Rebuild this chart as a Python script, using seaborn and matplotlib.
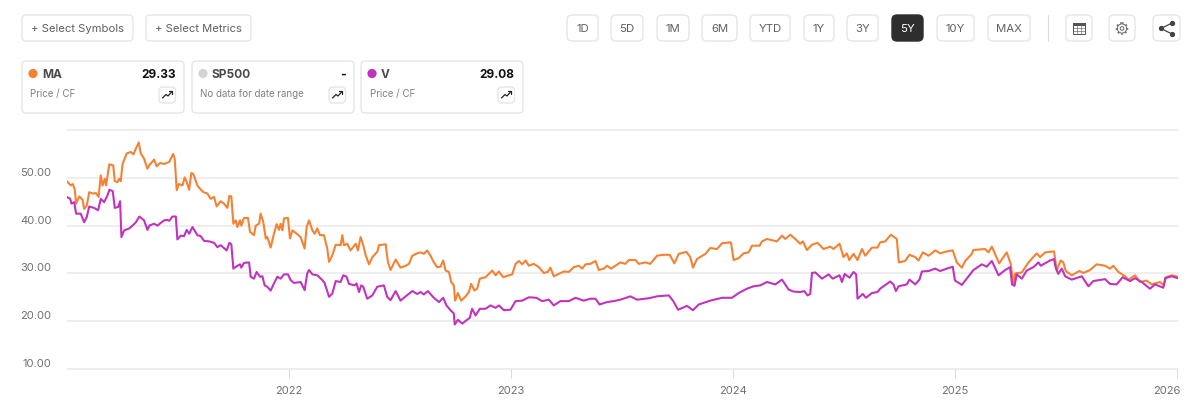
import pandas as pd
import seaborn as sns
import matplotlib.pyplot as plt
from matplotlib.patches import FancyBboxPatch, Circle
from matplotlib.transforms import ScaledTranslation

# price / cf. x is the date as a fractional year
ma_years = [
    2021.000, 2021.018, 2021.027, 2021.036, 2021.042, 2021.056, 2021.071, 2021.078, 2021.090, 2021.101,
    2021.116, 2021.131, 2021.143, 2021.153, 2021.161, 2021.171, 2021.177, 2021.191, 2021.209, 2021.216,
    2021.228, 2021.236, 2021.243, 2021.251, 2021.270, 2021.288, 2021.300, 2021.311, 2021.324, 2021.333,
    2021.348, 2021.363, 2021.371, 2021.393, 2021.405, 2021.420, 2021.438, 2021.461, 2021.479, 2021.486,
    2021.495, 2021.504, 2021.521, 2021.531, 2021.540, 2021.551, 2021.561, 2021.570, 2021.588, 2021.600,
    2021.615, 2021.633, 2021.648, 2021.663, 2021.675, 2021.693, 2021.708, 2021.723, 2021.732, 2021.741,
    2021.750, 2021.761, 2021.768, 2021.780, 2021.786, 2021.798, 2021.816, 2021.825, 2021.843, 2021.851,
    2021.866, 2021.873, 2021.885, 2021.896, 2021.903, 2021.918, 2021.933, 2021.945, 2021.956, 2021.963,
    2021.971, 2021.978, 2021.996, 2022.005, 2022.016, 2022.038, 2022.053, 2022.071, 2022.080, 2022.091,
    2022.106, 2022.116, 2022.128, 2022.140, 2022.158, 2022.173, 2022.181, 2022.196, 2022.211, 2022.233,
    2022.241, 2022.248, 2022.263, 2022.278, 2022.301, 2022.311, 2022.323, 2022.335, 2022.346, 2022.361,
    2022.376, 2022.398, 2022.406, 2022.436, 2022.446, 2022.458, 2022.481, 2022.503, 2022.526, 2022.541,
    2022.556, 2022.578, 2022.593, 2022.608, 2022.623, 2022.638, 2022.653, 2022.668, 2022.683, 2022.695,
    2022.706, 2022.721, 2022.731, 2022.743, 2022.749, 2022.761, 2022.776, 2022.796, 2022.811, 2022.821,
    2022.836, 2022.848, 2022.860, 2022.886, 2022.901, 2022.916, 2022.931, 2022.946, 2022.965, 2022.991,
    2023.006, 2023.021, 2023.036, 2023.051, 2023.066, 2023.081, 2023.103, 2023.126, 2023.148, 2023.166,
    2023.178, 2023.193, 2023.216, 2023.238, 2023.261, 2023.283, 2023.306, 2023.321, 2023.336, 2023.358,
    2023.381, 2023.396, 2023.418, 2023.433, 2023.451, 2023.471, 2023.493, 2023.516, 2023.531, 2023.561,
    2023.576, 2023.606, 2023.628, 2023.658, 2023.688, 2023.715, 2023.736, 2023.756, 2023.790, 2023.808,
    2023.820, 2023.838, 2023.876, 2023.898, 2023.928, 2023.951, 2023.991, 2024.003, 2024.026, 2024.048,
    2024.071, 2024.086, 2024.120, 2024.131, 2024.153, 2024.198, 2024.221, 2024.236, 2024.258, 2024.281,
    2024.303, 2024.315, 2024.333, 2024.356, 2024.381, 2024.408, 2024.438, 2024.453, 2024.480, 2024.498,
    2024.513, 2024.524, 2024.543, 2024.561, 2024.581, 2024.596, 2024.626, 2024.651, 2024.663, 2024.686,
    2024.711, 2024.738, 2024.747, 2024.775, 2024.795, 2024.821, 2024.836, 2024.855, 2024.881, 2024.911,
    2024.933, 2024.963, 2024.990, 2025.008, 2025.031, 2025.046, 2025.076, 2025.083, 2025.136, 2025.151,
    2025.166, 2025.199, 2025.233, 2025.251, 2025.263, 2025.271, 2025.301, 2025.331, 2025.368, 2025.383,
    2025.406, 2025.446, 2025.458, 2025.476, 2025.488, 2025.499, 2025.526, 2025.560, 2025.578, 2025.608,
    2025.638, 2025.676, 2025.698, 2025.713, 2025.736, 2025.766, 2025.781, 2025.811, 2025.833, 2025.863,
    2025.886, 2025.923, 2025.941, 2025.950, 2025.976, 2026.003,
]
ma_values = [
    49.3, 48.4, 48.7, 47.5, 44.6, 46.1, 45.4, 43.5, 44.2, 47.0,
    46.7, 46.8, 46.0, 50.5, 48.4, 49.8, 48.4, 52.8, 52.6, 49.3,
    49.1, 49.8, 49.3, 52.9, 55.1, 55.4, 54.9, 56.1, 57.4, 55.1,
    54.0, 51.9, 52.6, 53.8, 52.4, 53.1, 52.9, 53.3, 55.0, 54.0,
    47.4, 48.7, 48.4, 50.1, 49.1, 47.5, 51.0, 50.8, 48.4, 47.7,
    47.0, 46.7, 45.6, 46.0, 44.0, 45.1, 44.6, 43.7, 46.2, 46.1,
    40.4, 41.1, 39.7, 41.1, 40.0, 41.6, 41.6, 38.7, 38.0, 40.0,
    40.4, 42.5, 40.7, 37.3, 37.6, 35.4, 38.3, 40.3, 39.1, 40.4,
    39.0, 41.5, 41.6, 37.3, 39.0, 38.2, 37.6, 35.2, 39.7, 41.1,
    39.0, 38.3, 39.4, 38.0, 38.0, 35.2, 32.4, 33.8, 36.0, 35.9,
    38.0, 35.9, 36.2, 34.8, 36.2, 34.8, 37.6, 35.9, 33.8, 31.9,
    33.4, 34.5, 35.9, 36.1, 32.4, 30.7, 32.9, 31.2, 31.6, 32.0,
    33.7, 34.2, 34.4, 34.1, 34.8, 33.7, 32.3, 31.3, 31.4, 32.7,
    30.6, 30.3, 28.2, 27.5, 24.3, 25.9, 24.3, 25.2, 26.1, 27.8,
    26.4, 26.8, 28.9, 29.2, 29.9, 30.6, 29.6, 30.4, 29.2, 29.6,
    29.8, 32.0, 32.6, 31.9, 32.7, 31.6, 32.0, 31.3, 30.1, 30.3,
    31.2, 29.4, 29.9, 30.4, 30.3, 31.3, 31.6, 31.0, 31.9, 32.0,
    32.6, 30.7, 31.0, 31.6, 31.0, 31.6, 32.3, 32.0, 32.8, 32.8,
    32.0, 32.3, 32.0, 33.7, 33.9, 33.9, 32.1, 34.1, 34.5, 33.4,
    31.2, 33.0, 34.1, 35.3, 35.1, 36.3, 36.5, 32.8, 33.2, 34.2,
    34.4, 35.8, 35.8, 36.7, 37.2, 36.7, 37.9, 37.2, 38.1, 37.2,
    36.2, 36.7, 34.9, 36.0, 36.4, 35.1, 35.6, 35.1, 36.2, 33.4,
    34.2, 32.8, 34.1, 32.8, 35.1, 33.7, 35.4, 35.4, 36.5, 36.7,
    38.1, 37.2, 32.3, 32.6, 33.9, 33.4, 32.7, 34.4, 33.7, 34.8,
    34.2, 34.6, 34.8, 32.3, 31.2, 32.6, 34.1, 34.9, 35.1, 34.4,
    35.6, 32.1, 34.4, 32.0, 27.8, 30.0, 30.2, 32.3, 34.2, 33.4,
    34.4, 34.6, 30.6, 32.7, 32.3, 30.5, 29.6, 30.5, 30.1, 30.7,
    31.9, 31.6, 31.0, 31.6, 30.3, 29.4, 28.7, 29.6, 28.2, 28.5,
    27.7, 28.2, 27.5, 29.2, 29.6, 29.3,
]

v_years = [
    2021.000, 2021.015, 2021.021, 2021.033, 2021.042, 2021.063, 2021.078, 2021.090, 2021.101, 2021.123,
    2021.141, 2021.153, 2021.168, 2021.183, 2021.192, 2021.207, 2021.216, 2021.231, 2021.240, 2021.246,
    2021.258, 2021.281, 2021.296, 2021.311, 2021.327, 2021.348, 2021.363, 2021.372, 2021.393, 2021.408,
    2021.438, 2021.453, 2021.461, 2021.476, 2021.491, 2021.498, 2021.513, 2021.528, 2021.540, 2021.551,
    2021.566, 2021.588, 2021.603, 2021.618, 2021.641, 2021.663, 2021.678, 2021.693, 2021.720, 2021.732,
    2021.741, 2021.750, 2021.765, 2021.780, 2021.786, 2021.798, 2021.821, 2021.828, 2021.843, 2021.855,
    2021.870, 2021.881, 2021.891, 2021.903, 2021.918, 2021.933, 2021.948, 2021.963, 2021.978, 2021.996,
    2022.008, 2022.023, 2022.053, 2022.071, 2022.083, 2022.091, 2022.106, 2022.128, 2022.151, 2022.161,
    2022.181, 2022.196, 2022.211, 2022.233, 2022.245, 2022.260, 2022.271, 2022.296, 2022.305, 2022.316,
    2022.326, 2022.335, 2022.353, 2022.376, 2022.398, 2022.428, 2022.443, 2022.458, 2022.481, 2022.503,
    2022.526, 2022.556, 2022.578, 2022.593, 2022.608, 2022.626, 2022.653, 2022.676, 2022.695, 2022.710,
    2022.728, 2022.743, 2022.747, 2022.761, 2022.781, 2022.800, 2022.815, 2022.825, 2022.841, 2022.860,
    2022.886, 2022.908, 2022.931, 2022.946, 2022.968, 2022.998, 2023.021, 2023.051, 2023.081, 2023.115,
    2023.141, 2023.171, 2023.193, 2023.223, 2023.261, 2023.291, 2023.328, 2023.358, 2023.381, 2023.399,
    2023.433, 2023.463, 2023.493, 2023.538, 2023.568, 2023.621, 2023.658, 2023.711, 2023.730, 2023.753,
    2023.793, 2023.820, 2023.846, 2023.898, 2023.951, 2023.996, 2024.026, 2024.063, 2024.093, 2024.123,
    2024.153, 2024.191, 2024.221, 2024.251, 2024.273, 2024.303, 2024.321, 2024.336, 2024.348, 2024.356,
    2024.371, 2024.401, 2024.431, 2024.449, 2024.480, 2024.491, 2024.503, 2024.525, 2024.543, 2024.555,
    2024.561, 2024.585, 2024.599, 2024.626, 2024.651, 2024.663, 2024.708, 2024.723, 2024.734, 2024.746,
    2024.783, 2024.795, 2024.821, 2024.840, 2024.851, 2024.881, 2024.911, 2024.933, 2024.963, 2024.990,
    2025.000, 2025.031, 2025.053, 2025.083, 2025.121, 2025.143, 2025.166, 2025.196, 2025.226, 2025.248,
    2025.257, 2025.268, 2025.278, 2025.301, 2025.323, 2025.353, 2025.376, 2025.386, 2025.428, 2025.446,
    2025.453, 2025.465, 2025.481, 2025.496, 2025.526, 2025.571, 2025.601, 2025.623, 2025.676, 2025.698,
    2025.728, 2025.755, 2025.788, 2025.811, 2025.841, 2025.878, 2025.901, 2025.938, 2025.947, 2025.976,
    2026.003,
]
v_values = [
    46.0, 45.6, 44.6, 44.9, 42.5, 42.5, 40.7, 41.8, 44.0, 43.7,
    43.2, 45.6, 44.9, 46.3, 47.5, 47.2, 43.7, 43.9, 45.1, 37.6,
    39.0, 39.4, 40.0, 40.7, 41.9, 41.1, 39.1, 40.0, 40.4, 40.0,
    41.1, 41.2, 41.0, 41.9, 41.9, 37.1, 37.9, 37.8, 39.1, 38.3,
    39.7, 38.0, 37.8, 36.8, 36.7, 36.4, 35.5, 35.9, 34.8, 36.4,
    36.1, 31.0, 31.5, 31.9, 31.2, 32.2, 32.3, 29.3, 28.9, 30.3,
    29.3, 29.4, 27.5, 27.2, 26.4, 27.9, 29.3, 28.9, 29.8, 29.8,
    28.6, 28.0, 28.2, 26.5, 30.0, 30.7, 29.8, 29.6, 28.6, 28.0,
    25.1, 25.8, 28.4, 28.2, 29.6, 29.3, 27.8, 27.5, 27.9, 26.1,
    27.5, 27.2, 24.7, 25.4, 27.2, 27.5, 25.1, 24.4, 26.3, 24.3,
    25.2, 26.3, 25.7, 26.1, 25.6, 26.3, 24.9, 24.0, 24.9, 23.3,
    22.3, 21.6, 19.3, 20.3, 19.5, 20.2, 20.7, 22.6, 21.2, 22.6,
    22.6, 23.3, 22.8, 23.3, 22.3, 22.4, 24.2, 24.3, 25.0, 24.9,
    24.2, 24.5, 23.3, 24.2, 24.2, 24.9, 24.3, 24.7, 24.7, 23.5,
    24.0, 24.2, 24.5, 25.2, 24.5, 24.8, 25.2, 25.4, 24.3, 22.4,
    23.2, 22.3, 23.5, 24.3, 24.9, 24.9, 25.9, 26.8, 27.3, 27.5,
    28.2, 27.7, 28.7, 26.6, 26.2, 26.1, 26.3, 25.4, 25.7, 30.1,
    30.2, 28.9, 29.8, 28.9, 29.6, 28.2, 29.9, 29.1, 30.3, 29.8,
    24.7, 25.7, 24.9, 25.9, 26.1, 26.8, 28.3, 27.7, 26.3, 27.3,
    27.7, 28.7, 27.7, 28.7, 30.4, 30.5, 31.0, 30.5, 31.0, 31.4,
    28.5, 27.6, 28.9, 30.7, 31.9, 31.4, 32.6, 29.6, 30.7, 31.3,
    27.7, 27.4, 29.8, 28.9, 30.6, 31.3, 32.3, 31.6, 32.7, 33.0,
    31.3, 29.9, 31.0, 29.4, 28.7, 29.4, 27.3, 28.4, 28.8, 27.8,
    27.7, 29.2, 28.4, 29.0, 28.2, 26.8, 27.7, 27.0, 29.0, 29.4,
    29.0,
]

y_ticks = [10, 20, 30, 40, 50, 60]
y_tick_labels = ['10.00', '20.00', '30.00', '40.00', '50.00', '']
x_ticks = [2022, 2023, 2024, 2025, 2026]

range_buttons = ['1D', '5D', '1M', '6M', 'YTD', '1Y', '3Y', '5Y', '10Y', 'MAX']
range_edges = [(567, 598), (611, 643), (657, 689), (702, 737), (750, 790),
               (804, 834), (847, 878), (892, 923), (937, 974), (988, 1030)]

ORANGE = '#f58233'
PURPLE = '#c233bd'
BORDER = '#e6e6e6'
GREY = '#707070'

sns.set_theme(style='white')
plt.rcParams['font.family'] = ['Inter', 'DejaVu Sans']

fig = plt.figure(figsize=(12, 4.19), dpi=100, facecolor='white')

# ------------------------------------------ #
#                 line chart                 #
# ------------------------------------------ #

ax = fig.add_axes([66.8 / 1200, 50 / 419, 1110.9 / 1200, 239 / 419])

ma_frame = pd.DataFrame({'year': ma_years, 'value': ma_values, 'symbol': 'MA'})
v_frame = pd.DataFrame({'year': v_years, 'value': v_values, 'symbol': 'V'})
sns.lineplot(
    data=pd.concat([ma_frame, v_frame]),
    x='year',
    y='value',
    hue='symbol',
    palette={'MA': ORANGE, 'V': PURPLE},
    estimator=None,
    sort=False,
    legend=False,
    linewidth=1.5,
    ax=ax,
)

ax.set_xlim(2021, 2026.003)
ax.set_ylim(10, 60)
ax.set_xlabel('')
ax.set_ylabel('')
sns.despine(ax=ax, left=True, bottom=True, top=True, right=True)

ax.set_yticks(y_ticks)
ax.set_yticklabels(y_tick_labels, fontsize=8, color=GREY, va='bottom')
ax.tick_params(axis='y', length=0, pad=11)
for value in y_ticks:
    ax.axhline(value, color='#e9e9e9', lw=1.1, zorder=0, clip_on=False)

ax.set_xticks(x_ticks)
ax.set_xticklabels(x_ticks, fontsize=8, color=GREY)
ax.tick_params(axis='x', length=6.5, width=0.7, color='#d9d9d9', pad=6, bottom=True)

# nudge the last year label so it ends at the edge
last_label = ax.get_xticklabels()[-1]
last_label.set_ha('right')
last_label.set_transform(last_label.get_transform() + ScaledTranslation(3 / 100, 0, fig.dpi_scale_trans))

# ------------------------------------------ #
#           buttons and cards on top         #
# ------------------------------------------ #

ui = fig.add_axes([0, 0, 1, 1], facecolor='none')
ui.set_xlim(0, 1200)
ui.set_ylim(419, 0)
ui.axis('off')


def draw_box(x0, x1, y0, y1, face='white', edge=BORDER, radius=4):
    box = FancyBboxPatch(
        (x0 + radius, y0 + radius),
        x1 - x0 - 2 * radius,
        y1 - y0 - 2 * radius,
        boxstyle=f'round,pad={radius},rounding_size={radius}',
        fc=face,
        ec=edge,
        lw=1,
    )
    ui.add_patch(box)


def draw_trend_button(x0, x1, y0, y1):
    draw_box(x0, x1, y0, y1, radius=4)
    ui.plot([x0 + 3.5, x0 + 7, x0 + 9, x1 - 3.5], [y1 - 5, y1 - 8.5, y1 - 7, y0 + 4.5],
            color='#222222', lw=0.9)
    ui.plot([x1 - 6.5, x1 - 3.5, x1 - 3.5], [y0 + 4.5, y0 + 4.5, y0 + 7.5], color='#222222', lw=0.9)


draw_box(22, 133, 15, 41)
ui.text(31, 29.5, '+ Select Symbols', fontsize=8.1, color='#606060', va='center')
draw_box(146, 251, 15, 41)
ui.text(155, 29.5, '+ Select Metrics', fontsize=8.1, color='#606060', va='center')

for label, (x0, x1) in zip(range_buttons, range_edges):
    selected = label == '5Y'
    draw_box(x0, x1, 15, 41, face='#2e2e2e' if selected else 'white',
             edge='#2e2e2e' if selected else BORDER, radius=5)
    ui.text((x0 + x1) / 2, 29, label, fontsize=8.2, ha='center', va='center',
            color='white' if selected else '#606060')

ui.plot([1048, 1048], [15, 41], color='#dddddd', lw=0.8)

# table icon
draw_box(1066, 1092, 15, 41, radius=5)
ui.add_patch(plt.Rectangle((1073, 23), 12, 11, fc='white', ec='#555555', lw=0.7))
ui.add_patch(plt.Rectangle((1073, 23), 12, 2.5, fc='#555555', ec='#555555', lw=0.7))
for x in [1077, 1081]:
    ui.plot([x, x], [25, 34], color='#555555', lw=0.4)
for y in [28.5, 31.2]:
    ui.plot([1073, 1085], [y, y], color='#555555', lw=0.4)

# gear icon
draw_box(1109, 1135, 15, 41, radius=5)
ui.add_patch(Circle((1122, 28.5), 4.6, fc='white', ec='#666666', lw=0.7))
ui.add_patch(Circle((1122, 28.5), 5.6, fc='none', ec='#666666', lw=1, ls=(0, (1.2, 1.8))))
ui.add_patch(Circle((1122, 28.5), 1.8, fc='white', ec='#666666', lw=0.7))

# share icon
draw_box(1153, 1180, 15, 41, radius=5)
ui.plot([1172, 1161, 1172], [23, 28.5, 34], color='#444444', lw=0.9, marker='o', ms=2.8)

# symbol cards
cards = [
    (22, 184, 'MA', '29.33', 'Price / CF', ORANGE),
    (192, 354, 'SP500', '-', 'No data for date range', '#d4d4d4'),
    (361, 523, 'V', '29.08', 'Price / CF', PURPLE),
]
for x0, x1, symbol, latest, note, colour in cards:
    draw_box(x0, x1, 61, 113)
    ui.add_patch(Circle((x0 + 11, 73.5), 4.6, fc=colour, ec='none'))
    ui.text(x0 + 20, 74.5, symbol, fontsize=8.6, fontweight='bold', color='#4a4a4a', va='center')
    ui.text(x1 - 8.5, 74.5, latest, fontsize=8.6, fontweight='bold', color='#111111',
            va='center', ha='right')
    ui.text(x0 + 8.5, 94, note, fontsize=7, color='#808080', va='center')
    draw_trend_button(x1 - 25, x1 - 8.5, 87, 103)

fig.savefig('out.png', dpi=100)
